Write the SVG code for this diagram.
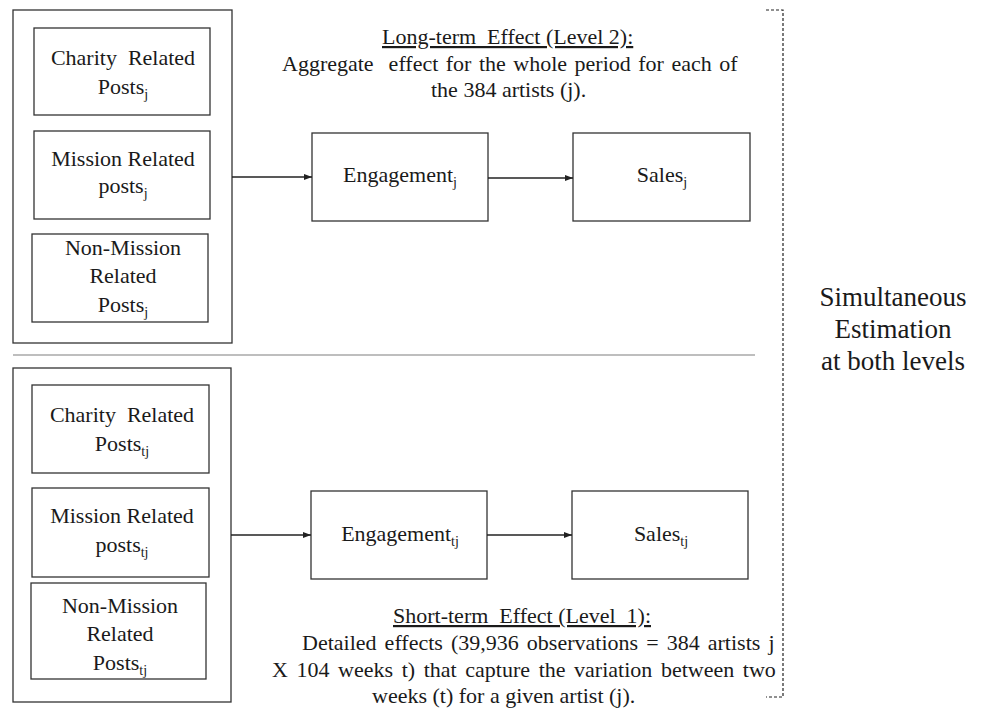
<svg xmlns="http://www.w3.org/2000/svg" width="984" height="713" viewBox="0 0 984 713" font-family="'Liberation Serif', 'Times New Roman', 'DejaVu Serif', serif">
<style>
.box{fill:#fff;stroke:#333;stroke-width:1.3}
.t{font-size:22px;fill:#1a1a1a}
.m{text-anchor:middle}
.sub{font-size:14px}
.con{stroke:#222;stroke-width:1.3;fill:none}
.u{text-decoration:underline}
.big{font-size:27px}
</style>
<defs>
<marker id="ah" markerWidth="8" markerHeight="8" refX="8" refY="4" orient="auto" markerUnits="userSpaceOnUse"><path d="M0,1 L8,4 L0,7 z" fill="#222"/></marker>
</defs>
<rect width="984" height="713" fill="#fff"/>

<g id="level2-posts">
<rect class="box" x="13" y="10" width="219" height="333"/>
</g>
<g id="charity-j">
<rect class="box" x="34" y="28" width="176" height="87"/>
<text class="t m" x="123" y="65" xml:space="preserve">Charity  Related</text>
<text class="t m" x="123" y="94">Posts<tspan class="sub" dy="5">j</tspan></text>
</g>
<g id="mission-j">
<rect class="box" x="34" y="131" width="176" height="88"/>
<text class="t m" x="123" y="166">Mission Related</text>
<text class="t m" x="123" y="193">posts<tspan class="sub" dy="5">j</tspan></text>
</g>
<g id="nonmission-j">
<rect class="box" x="32" y="234" width="176" height="88"/>
<text class="t m" x="123" y="255">Non-Mission</text>
<text class="t m" x="123" y="283">Related</text>
<text class="t m" x="123" y="312">Posts<tspan class="sub" dy="5">j</tspan></text>
</g>
<g id="engagement-j">
<rect class="box" x="312" y="133" width="176" height="88"/>
<text class="t m" x="400" y="182">Engagement<tspan class="sub" dy="5">j</tspan></text>
</g>
<g id="sales-j">
<rect class="box" x="573" y="133" width="177" height="88"/>
<text class="t m" x="662" y="182">Sales<tspan class="sub" dy="5">j</tspan></text>
</g>

<g id="level1-posts">
<rect class="box" x="13" y="368" width="218" height="334"/>
</g>
<g id="charity-tj">
<rect class="box" x="32" y="385" width="177" height="88"/>
<text class="t m" x="122" y="422" xml:space="preserve">Charity  Related</text>
<text class="t m" x="122" y="451">Posts<tspan class="sub" dy="5">tj</tspan></text>
</g>
<g id="mission-tj">
<rect class="box" x="32" y="488" width="177" height="89"/>
<text class="t m" x="122" y="523">Mission Related</text>
<text class="t m" x="122" y="552">posts<tspan class="sub" dy="5">tj</tspan></text>
</g>
<g id="nonmission-tj">
<rect class="box" x="31" y="583" width="175" height="96"/>
<text class="t m" x="120" y="613">Non-Mission</text>
<text class="t m" x="120" y="641">Related</text>
<text class="t m" x="120" y="670">Posts<tspan class="sub" dy="5">tj</tspan></text>
</g>
<g id="engagement-tj">
<rect class="box" x="311" y="491" width="176" height="88"/>
<text class="t m" x="400" y="541">Engagement<tspan class="sub" dy="5">tj</tspan></text>
</g>
<g id="sales-tj">
<rect class="box" x="572" y="491" width="176" height="88"/>
<text class="t m" x="661" y="541">Sales<tspan class="sub" dy="5">tj</tspan></text>
</g>

<g id="connectors">
<path class="con" d="M232,177 H312" marker-end="url(#ah)"/>
<path class="con" d="M488,178 H573" marker-end="url(#ah)"/>
<path class="con" d="M231,535 H311" marker-end="url(#ah)"/>
<path class="con" d="M487,535 H572" marker-end="url(#ah)"/>
</g>

<g id="separator">
<path d="M13,355 H755" stroke="#a8a8a8" stroke-width="1.5" fill="none"/>
</g>
<g id="bracket">
<path d="M766,10 H783 V697 H766" stroke="#222" stroke-width="1.2" stroke-dasharray="3,2" fill="none"/>
</g>

<g id="level2-text">
<text class="t u" x="382" y="44" xml:space="preserve">Long-term  Effect (Level 2):</text>
<text class="t" x="282" y="71" xml:space="preserve" word-spacing="2">Aggregate  effect for the whole period for each of</text>
<text class="t" x="431" y="97">the 384 artists (j).</text>
</g>

<g id="level1-text">
<text class="t u" x="393" y="623" xml:space="preserve">Short-term  Effect (Level  1):</text>
<text class="t" x="302" y="650" word-spacing="2.6">Detailed effects (39,936 observations = 384 artists j</text>
<text class="t" x="272" y="677" word-spacing="3.1">X 104 weeks t) that capture the variation between two</text>
<text class="t" x="372" y="703">weeks (t) for a given artist (j).</text>
</g>

<g id="simultaneous">
<text class="t m big" x="893" y="306">Simultaneous</text>
<text class="t m big" x="893" y="338">Estimation</text>
<text class="t m big" x="893" y="370">at both levels</text>
</g>
</svg>
